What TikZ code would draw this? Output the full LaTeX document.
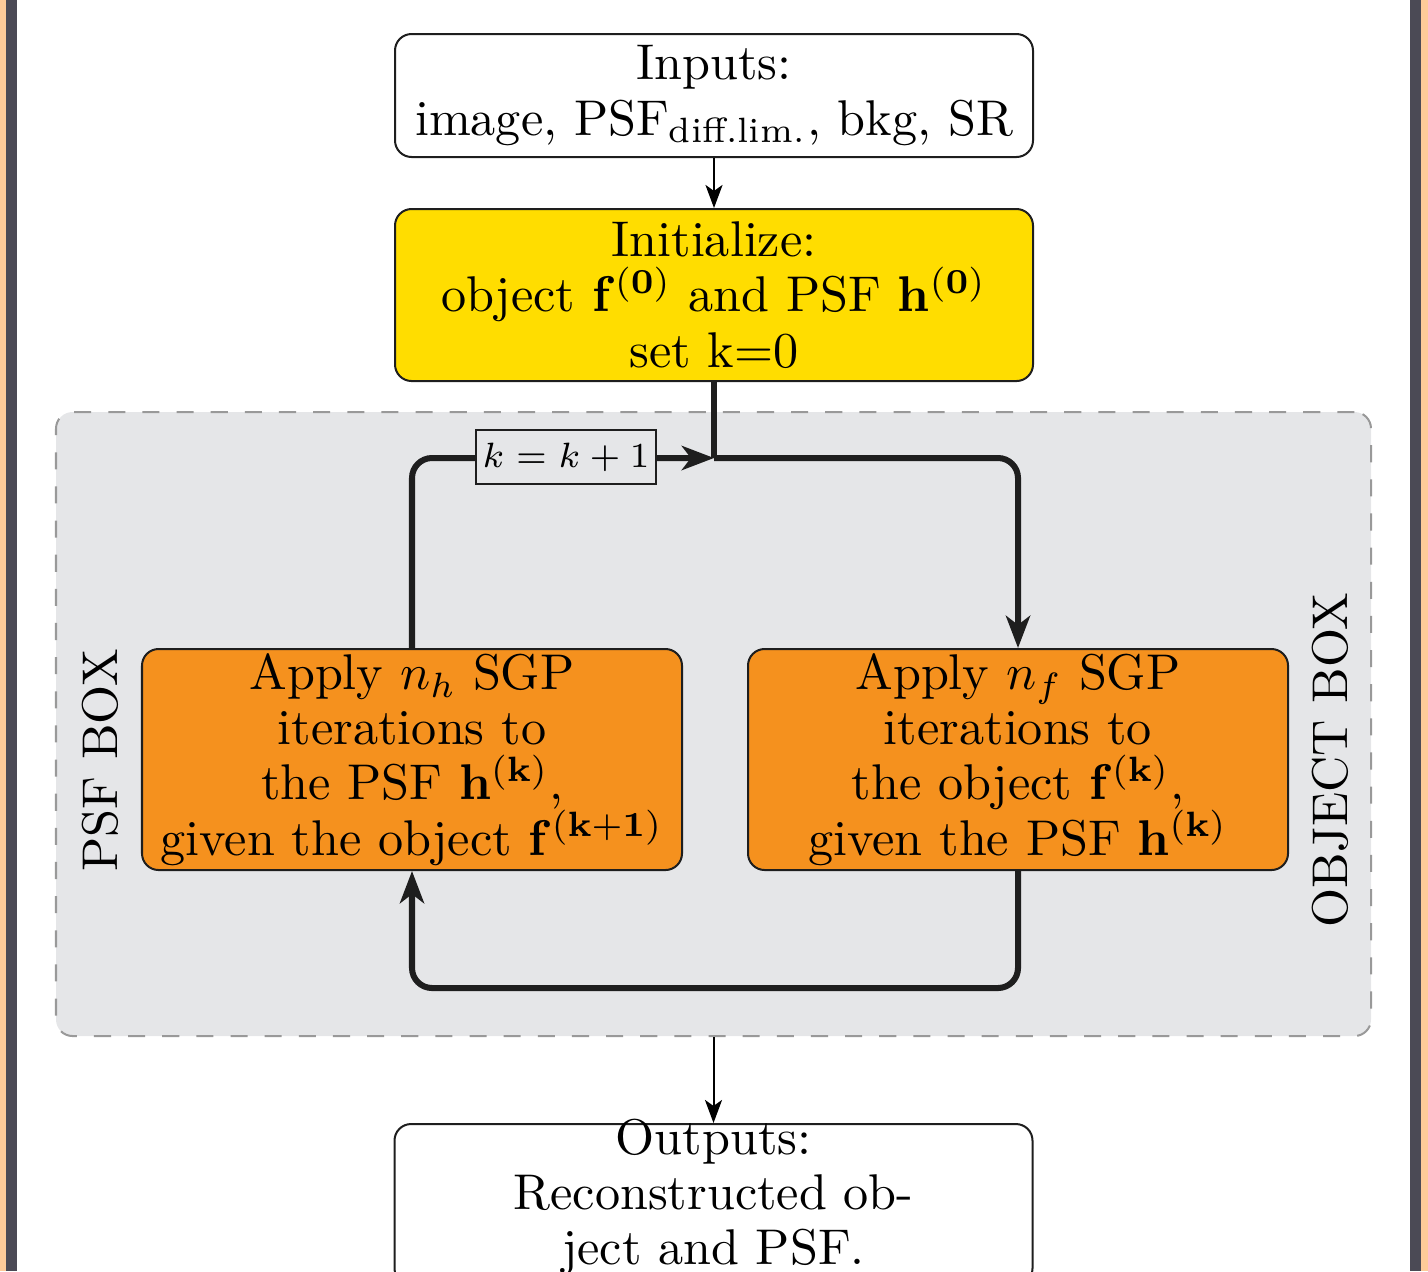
\documentclass[tikz,border=0pt]{standalone}
\usepackage{tikz}
\usetikzlibrary{arrows.meta, positioning, calc}
\usepackage{amsmath}
\definecolor{sgpYellow}{HTML}{FFDD00}
\definecolor{sgpOrange}{HTML}{F5911E}
\definecolor{sgpGray}{HTML}{E5E6E8}
\definecolor{sgpDash}{HTML}{999999}
\definecolor{sgpDark}{HTML}{1E1E1E}
\definecolor{frameDark}{HTML}{4B4A55}
\definecolor{frameOrange}{HTML}{FDCB99}
\tikzset{
  arrowT/.style={-{Stealth[length=4.6pt, width=3.4pt, inset=1.2pt]}, line width=0.4pt},
  arrowL/.style={-{Stealth[length=6.4pt, width=4.8pt, inset=1.8pt]}, sgpDark,
                 line width=1.2pt, rounded corners=0.14cm},
  boxW/.style={rectangle, rounded corners=3.3pt, draw=sgpDark, fill=white,
               line width=0.4pt, align=center, font=\fontsize{10}{11}\selectfont,
               inner sep=1pt, minimum width=4.466cm},
  boxY/.style={rectangle, rounded corners=3.3pt, draw=sgpDark, fill=sgpYellow,
               line width=0.4pt, align=center, font=\fontsize{10}{11}\selectfont,
               inner sep=1pt, minimum width=4.466cm, minimum height=1.204cm},
  boxO/.style={rectangle, rounded corners=3.3pt, draw=sgpDark, fill=sgpOrange,
               line width=0.4pt, align=center, font=\fontsize{10}{11}\selectfont,
               inner sep=0.5pt, minimum width=3.78cm, minimum height=1.547cm},
  regionbox/.style={rectangle, rounded corners=3.3pt, draw=sgpDash, fill=sgpGray,
                    dash pattern=on 3.4pt off 3.4pt, line width=0.4pt,
                    minimum width=9.205cm, minimum height=4.368cm},
  stepk/.style={rectangle, draw=sgpDark, fill=sgpGray, line width=0.4pt,
                font=\scriptsize, inner sep=1pt, minimum width=1.26cm, minimum height=0.378cm},
  boxlabel/.style={rotate=90, font=\fontsize{10}{11}\selectfont},
}
\begin{document}
\begin{tikzpicture}[node distance=0.35cm and 0.448cm]
    \useasboundingbox (0,0) rectangle (9.996,-8.897);
    % frame strips
    \fill[frameOrange] (0,0) rectangle (0.042,-8.897);
    \fill[frameDark] (0.042,0) rectangle (0.119,-8.897);
    \fill[frameDark] (9.87,0) rectangle (9.947,-8.897);
    \fill[frameOrange] (9.947,0) rectangle (9.996,-8.897);
    % boxes
    \node[regionbox] (loop) at (4.9945,-5.068) {};
    \node[boxW, minimum height=0.861cm] (inputs) at (4.998,-0.6685)
      {Inputs:\\image, PSF$_{\text{diff.lim.}}$, bkg, SR};
    \node[boxY, below=of inputs] (init)
      {Initialize:\\object $\mathbf{f}^{(\mathbf{0})}$ and PSF $\mathbf{h}^{(\mathbf{0})}$\\set k=0};
    \node[boxO] (psf) at (2.884,-5.3165)
      {Apply $n_h$ SGP\\iterations to\\the PSF $\mathbf{h}^{(\mathbf{k})}$,\\given the object $\mathbf{f}^{(\mathbf{k+1})}$};
    \node[boxO, right=of psf] (obj)
      {Apply $n_f$ SGP\\iterations to\\the object $\mathbf{f}^{(\mathbf{k})}$,\\given the PSF $\mathbf{h}^{(\mathbf{k})}$};
    \node[boxW, below=0.602cm of loop, inner ysep=-1pt, text depth=5pt] (outputs)
      {Outputs:\\Reconstructed ob-\\ject and PSF.};
    \node[boxlabel] (psflab) at (0.7,-5.32) {PSF BOX};
    \node[boxlabel] (objlab) at (9.31,-5.32) {OBJECT BOX};
    % loop
    \coordinate (j) at (init.south |- 0,-3.206);
    \coordinate (b) at (obj.south |- 0,-6.916);
    \draw[sgpDark, line width=1.2pt] (init.south) -- (j);
    \draw[arrowL] (j) -| (obj.north);
    \draw[arrowL] (obj.south) -- (b) -| (psf.south);
    \draw[arrowL] (psf.north) |- (j);
    \node[stepk] (kstep) at (3.962,-3.199) {$k=k+1$};
    \draw[arrowT] (inputs) -- (init);
    \draw[arrowT] (loop) -- (outputs);
\end{tikzpicture}
\end{document}
